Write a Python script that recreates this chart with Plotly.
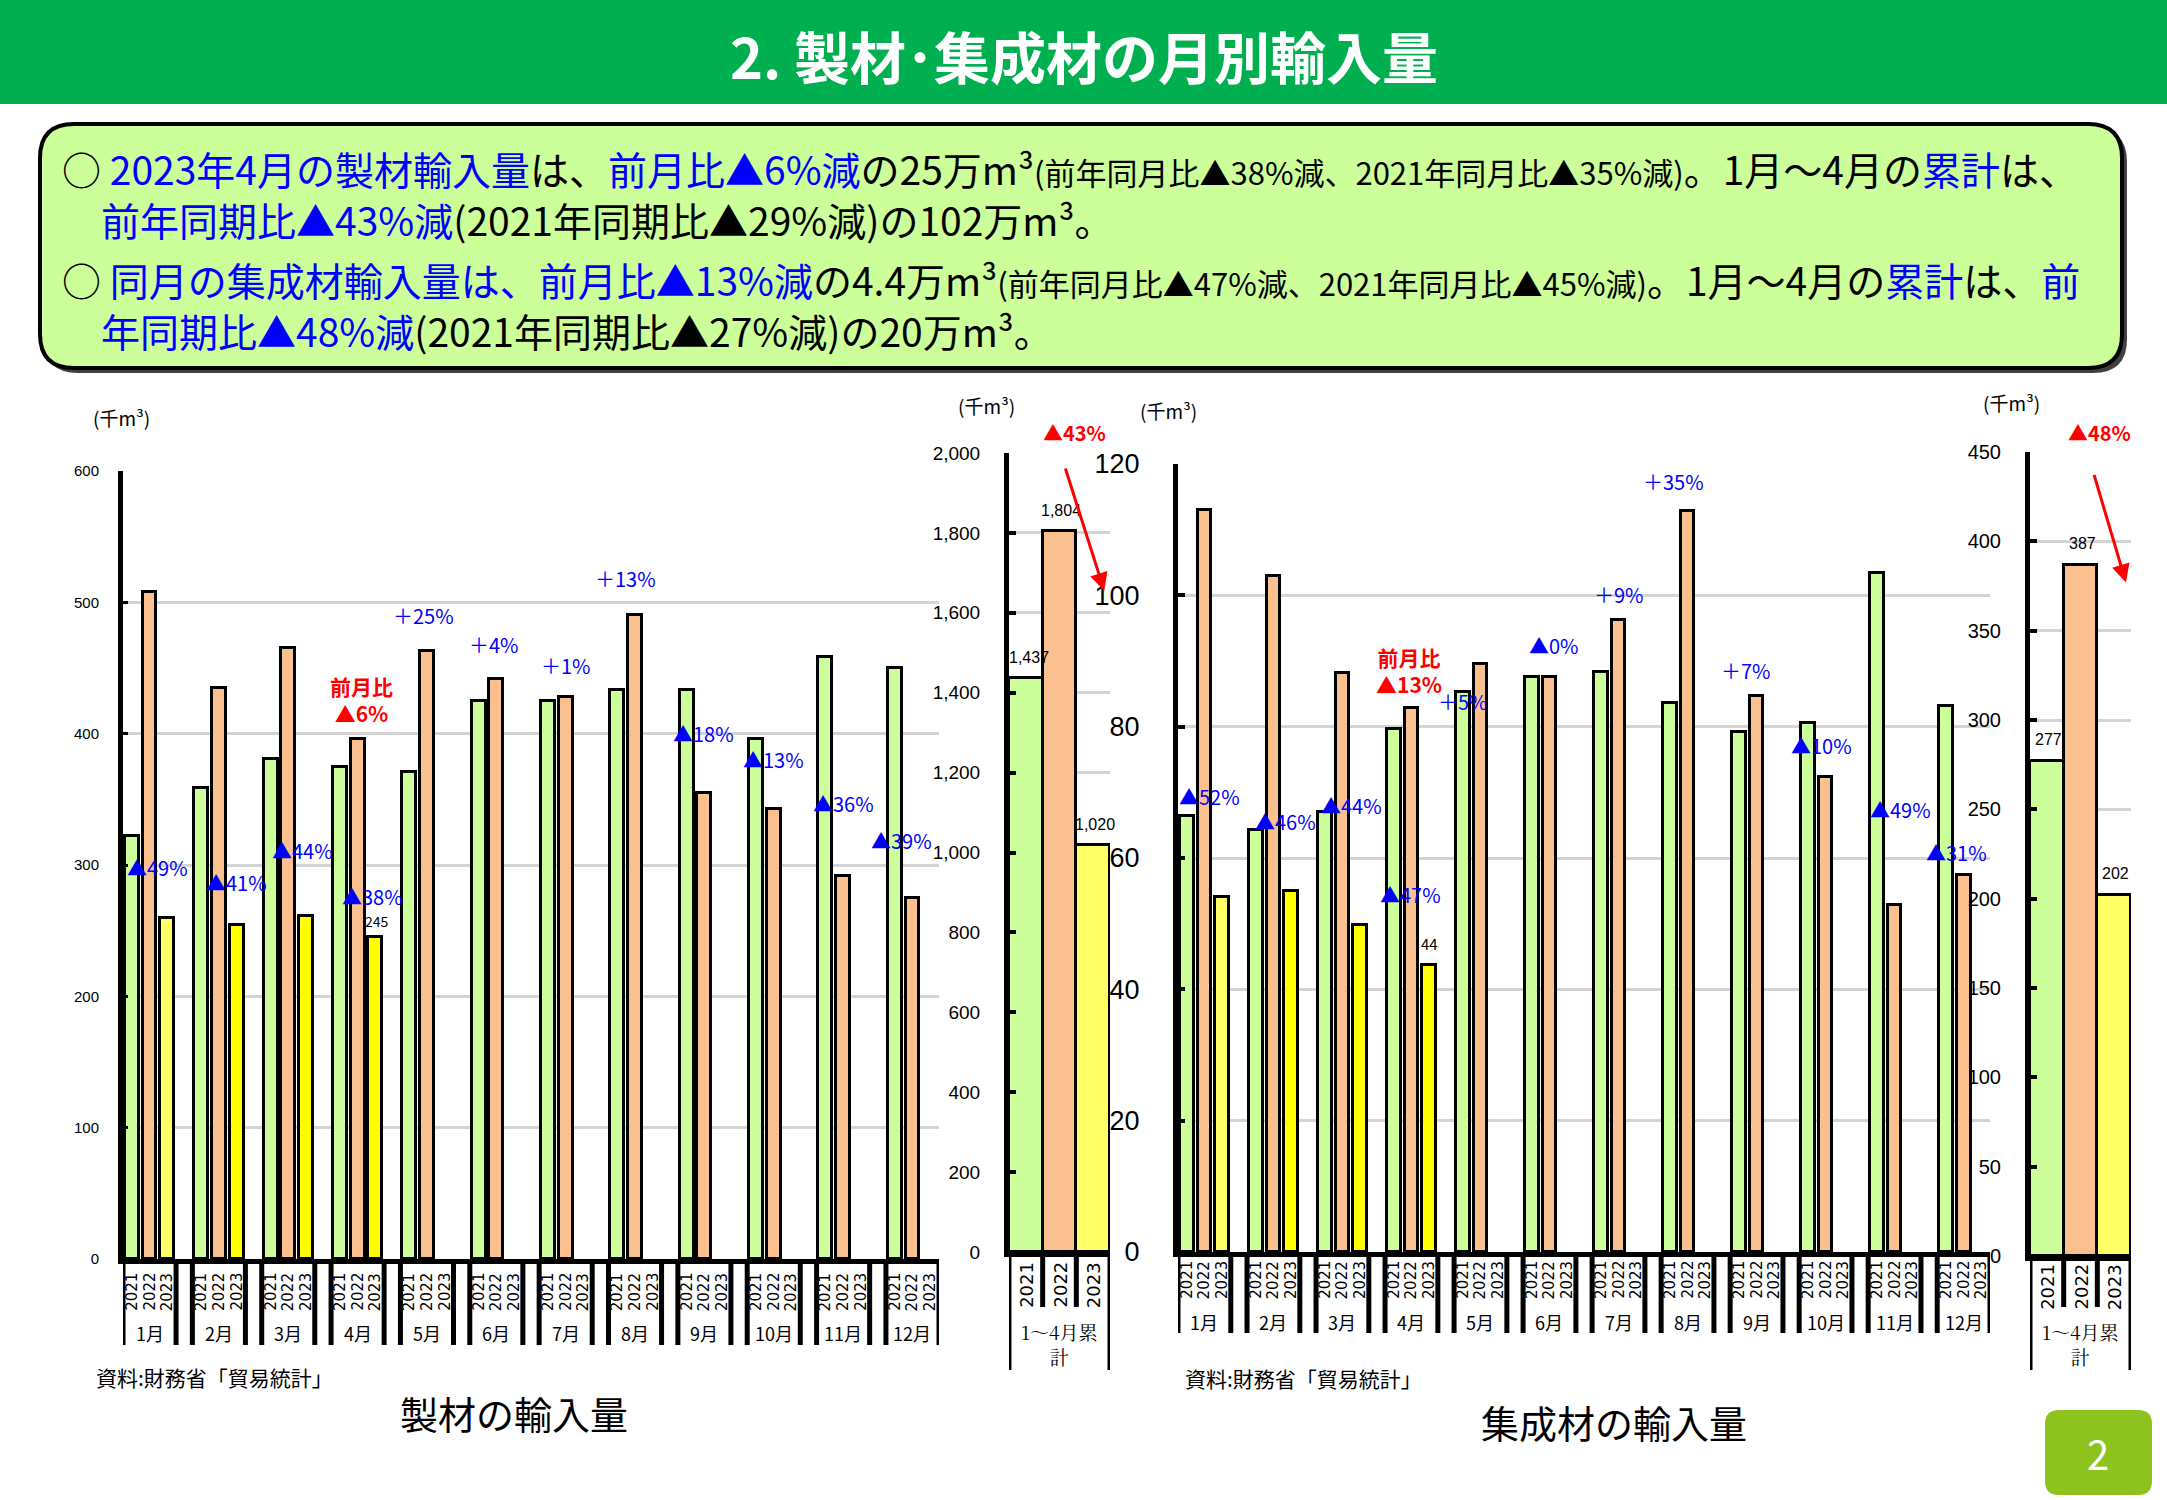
import plotly.graph_objects as go

W, H = 2167, 1500


def px(x):
    return x / W


def py(y):
    return 1 - y / H


# ---------------- data ----------------
months = ["1月", "2月", "3月", "4月", "5月", "6月", "7月", "8月", "9月", "10月", "11月", "12月"]
years = ["2021", "2022", "2023"]
cum_label = "1～4月累<br>計"

sawn_2021 = [322, 359, 381, 375, 371, 425, 425, 433, 433, 396, 458, 450]
sawn_2022 = [508, 435, 465, 396, 463, 442, 428, 490, 355, 343, 292, 275]
sawn_2023 = [260, 254, 261, 245]
sawn_cum = [1437, 1804, 1020]
sawn_cum_text = ["1,437", "1,804", "1,020"]
sawn_pct = ["▲49%", "▲41%", "▲44%", "▲38%", "＋25%", "＋4%", "＋1%", "＋13%", "▲18%", "▲13%", "▲36%", "▲39%"]

glulam_2021 = [66.4, 64.3, 67.0, 79.7, 85.3, 87.6, 88.3, 83.6, 79.2, 80.5, 103.4, 83.2]
glulam_2022 = [113.0, 103.0, 88.2, 82.8, 89.6, 87.6, 96.2, 112.9, 84.7, 72.3, 52.8, 57.4]
glulam_2023 = [54.0, 55.0, 49.8, 43.7]
glulam_cum = [277, 387, 202]
glulam_cum_text = ["277", "387", "202"]
glulam_pct = ["▲52%", "▲46%", "▲44%", "▲47%", "＋5%", "▲0%", "＋9%", "＋35%", "＋7%", "▲10%", "▲49%", "▲31%"]

# label anchor positions (x in month units, y in axis units)
sawn_pct_pos = [(0.12, 298), (1.26, 287), (2.21, 311), (3.21, 276), (3.95, 490), (4.96, 468),
                (6.0, 452), (6.86, 518), (7.99, 400), (8.99, 380), (10.0, 347), (10.84, 319)]
glulam_pct_pos = [(0.07, 69.3), (1.17, 65.5), (2.13, 68.0), (2.99, 54.4), (3.75, 83.8), (5.06, 92.4),
                  (6.0, 100.2), (6.8, 117.4), (7.84, 88.6), (8.94, 77.1), (10.09, 67.4), (10.89, 60.9)]

GREEN = "#CCFF99"
ORANGE = "#FAC090"
YELLOW = "#FFFF00"
LYELLOW = "#FFFF66"
BLUE = "#0000FF"
RED = "#FF0000"
FONT = "Noto Sans CJK JP"

offs = [-0.255, 0.0, 0.255]
BOX = 0.3825

fig = go.Figure()


def month_bars(vals_list, xa, ya):
    cols = [GREEN, ORANGE, YELLOW]
    for k, vals in enumerate(vals_list):
        if k == 2:
            colors = [LYELLOW] + [YELLOW] * (len(vals) - 1)
        else:
            colors = cols[k]
        fig.add_trace(go.Bar(
            x=[i + offs[k] for i in range(len(vals))], y=vals, width=0.2,
            marker=dict(color=colors, line=dict(color="black", width=3)),
            xaxis=xa, yaxis=ya, showlegend=False, hoverinfo="skip"))


def cum_bars(vals, xa, ya):
    fig.add_trace(go.Bar(
        x=list(range(len(vals))), y=vals, width=1.0,
        marker=dict(color=[GREEN, ORANGE, LYELLOW], line=dict(color="black", width=3)),
        xaxis=xa, yaxis=ya, showlegend=False, hoverinfo="skip"))


month_bars([sawn_2021, sawn_2022, sawn_2023], "x", "y")
cum_bars(sawn_cum, "x2", "y2")
month_bars([glulam_2021, glulam_2022, glulam_2023], "x3", "y3")
cum_bars(glulam_cum, "x4", "y4")

xcommon = dict(showgrid=False, zeroline=False, showticklabels=False, ticks="", automargin=False,
               showline=True, linecolor="black", linewidth=5, fixedrange=True)


def ycommon(size, standoff, ticklen=7, tickw=4):
    return dict(showline=True, linecolor="black", linewidth=5, ticks="inside", ticklen=ticklen,
                tickwidth=tickw, tickcolor="black", showgrid=True, gridcolor="#D4D4D4",
                gridwidth=2.5, zeroline=False, fixedrange=True, automargin=False,
                tickfont=dict(family="Liberation Sans", size=size, color="black"),
                ticklabelstandoff=standoff)


fig.update_layout(
    width=W, height=H, margin=dict(l=0, r=0, t=0, b=0, pad=0, autoexpand=False),
    paper_bgcolor="white", plot_bgcolor="rgba(0,0,0,0)",
    font=dict(family=FONT, color="black"),
    bargap=0, showlegend=False,
    xaxis=dict(domain=[px(123), px(939)], range=[-BOX, 11 + BOX], anchor="y", **xcommon),
    yaxis=dict(domain=[py(1259), py(471)], range=[0, 600], dtick=100, anchor="x", **ycommon(15, 16, 5, 3)),
    xaxis2=dict(domain=[px(1009), px(1110)], range=[-0.5, 2.5], anchor="y2", **xcommon),
    yaxis2=dict(domain=[py(1252), py(453)], range=[0, 2000], dtick=200, tickformat=",", anchor="x2",
                **ycommon(19, 20)),
    xaxis3=dict(domain=[px(1178), px(1990)], range=[-BOX, 11 + BOX], anchor="y3", **xcommon),
    yaxis3=dict(domain=[py(1252), py(464)], range=[0, 120], dtick=20, anchor="x3", **ycommon(27, 28)),
    xaxis4=dict(domain=[px(2030), px(2131)], range=[-0.5, 2.5], anchor="y4", **xcommon),
    yaxis4=dict(domain=[py(1256), py(452)], range=[0, 450], dtick=50, anchor="x4", **ycommon(20, 20)),
)

shapes = []
anns = []


def A(text, x, y, xref="paper", yref="paper", size=16, color="black", xanchor="center",
      yanchor="middle", family=FONT, angle=0, **kw):
    anns.append(dict(text=text, x=x, y=y, xref=xref, yref=yref, showarrow=False,
                     font=dict(size=size, color=color, family=family), xanchor=xanchor,
                     yanchor=yanchor, textangle=angle, **kw))


def rrect(x0, y0, x1, y1, r, fill, line_color, lw):
    pts = [
        f"M {px(x0 + r)},{py(y0)}", f"L {px(x1 - r)},{py(y0)}",
        f"Q {px(x1)},{py(y0)} {px(x1)},{py(y0 + r)}", f"L {px(x1)},{py(y1 - r)}",
        f"Q {px(x1)},{py(y1)} {px(x1 - r)},{py(y1)}", f"L {px(x0 + r)},{py(y1)}",
        f"Q {px(x0)},{py(y1)} {px(x0)},{py(y1 - r)}", f"L {px(x0)},{py(y0 + r)}",
        f"Q {px(x0)},{py(y0)} {px(x0 + r)},{py(y0)}", "Z"]
    shapes.append(dict(type="path", path=" ".join(pts), xref="paper", yref="paper",
                       fillcolor=fill, line=dict(color=line_color, width=lw), layer="below"))


# header band
shapes.append(dict(type="rect", xref="paper", yref="paper", x0=-0.01, x1=1.01, y0=py(104), y1=1.05,
                   fillcolor="#00B050", line=dict(width=0), layer="below"))
A("<b>2. 製材･集成材の月別輸入量</b>", 0.5, py(55), size=56, color="white")

# summary box
rrect(44, 128, 2127, 373, 34, "#404040", "#404040", 0)
rrect(40, 124, 2122, 368, 34, "#CCFF99", "black", 4)


def b(t):
    return f'<span style="color:{BLUE}">{t}</span>'


def s(t):
    return f'<span style="font-size:31px">{t}</span>'


SZ = 39
line1 = ("○ " + b("2023年4月の製材輸入量") + "は、" + b("前月比▲6%減") + "の25万m³"
         + s("(前年同月比▲38%減、2021年同月比▲35%減)") + "。1月～4月の" + b("累計") + "は、")
line2 = "　" + b("前年同期比▲43%減") + "(2021年同期比▲29%減)の102万m³。"
line3 = ("○ " + b("同月の集成材輸入量は、前月比▲13%減") + "の4.4万m³"
         + s("(前年同月比▲47%減、2021年同月比▲45%減)") + "。1月～4月の" + b("累計") + "は、" + b("前"))
line4 = "　" + b("年同期比▲48%減") + "(2021年同期比▲27%減)の20万m³。"
A(line1 + "<br>" + line2, px(60), py(193), size=SZ, xanchor="left", align="left")
A(line3 + "<br>" + line4, px(60), py(304), size=SZ, xanchor="left", align="left")


# category axes for monthly charts
def month_axis(xref, ybot, yend, ylab_year, ylab_month, n=12):
    for i in range(n):
        for e in (-BOX, BOX):
            shapes.append(dict(type="line", xref=xref, yref="paper", x0=i + e, x1=i + e,
                               y0=py(ybot), y1=py(yend), line=dict(color="black", width=5)))
        for k, yr in enumerate(years):
            A(yr, i + offs[k], py(ylab_year), xref=xref, size=15, family="DejaVu Sans", angle=-90)
        A(months[i], i, py(ylab_month), xref=xref, size=18)


def cum_axis(xref, ybot, yin, yend, ylab_year):
    for e in (-0.5, 2.5):
        shapes.append(dict(type="line", xref=xref, yref="paper", x0=e, x1=e, y0=py(ybot),
                           y1=py(yend), line=dict(color="black", width=5)))
    for e in (0.5, 1.5):
        shapes.append(dict(type="line", xref=xref, yref="paper", x0=e, x1=e, y0=py(ybot),
                           y1=py(yin), line=dict(color="black", width=5)))
    for k, yr in enumerate(years):
        A(yr, k, py(ylab_year), xref=xref, size=18, family="DejaVu Sans", angle=-90)
    A(cum_label, 1, py(1344), xref=xref, size=19, family="Noto Serif CJK JP")


month_axis("x", 1259, 1345, 1292, 1333)
month_axis("x3", 1252, 1333, 1280, 1322)
cum_axis("x2", 1252, 1307, 1370, 1285)
cum_axis("x4", 1256, 1307, 1370, 1287)

# unit labels
A("(千m³)", px(121), py(418), size=19)
A("(千m³)", px(987), py(405), size=19)
A("(千m³)", px(1168), py(410), size=19)
A("(千m³)", px(2011), py(402), size=19)

# percent labels
for t, (x, y) in zip(sawn_pct, sawn_pct_pos):
    A(t, x, y, xref="x", yref="y", size=20, color=BLUE)
for t, (x, y) in zip(glulam_pct, glulam_pct_pos):
    A(t, x, y, xref="x3", yref="y3", size=20, color=BLUE)

# value labels on the latest month
A(str(sawn_2023[3]), 3 + offs[2] + 0.02, sawn_2023[3] + 12, xref="x", yref="y", size=14)
A(str(round(glulam_2023[3])), 3 + offs[2], glulam_2023[3] + 3.3, xref="x3", yref="y3", size=15)
A("<b>前月比<br>▲6%</b>", 3.05, 426, xref="x", yref="y", size=21, color=RED)
A("<b>前月比<br>▲13%</b>", 2.97, 88.6, xref="x3", yref="y3", size=21, color=RED)

# cumulative value labels
for k, (v, t) in enumerate(zip(sawn_cum, sawn_cum_text)):
    A(t, k + (0.1 if k == 0 else 0.05), v + 25, xref="x2", yref="y2", size=16, yanchor="bottom",
      family="Liberation Sans")
for k, (v, t) in enumerate(zip(glulam_cum, glulam_cum_text)):
    A(t, k + 0.05, v + 6, xref="x4", yref="y4", size=16, yanchor="bottom", family="Liberation Sans")

A("<b>▲43%</b>", px(1074), py(433), size=20, color=RED)
A("<b>▲48%</b>", px(2099), py(433), size=20, color=RED)
anns.append(dict(x=2.33, y=1655, ax=1.16, ay=1965, xref="x2", yref="y2", axref="x2", ayref="y2",
                 showarrow=True, arrowhead=2, arrowsize=1.2, arrowwidth=3, arrowcolor=RED, text=""))
anns.append(dict(x=2.35, y=377, ax=1.39, ay=438, xref="x4", yref="y4", axref="x4", ayref="y4",
                 showarrow=True, arrowhead=2, arrowsize=1.2, arrowwidth=3, arrowcolor=RED, text=""))

# sources & captions
A("資料:財務省「貿易統計」", px(94), py(1377), size=21, xanchor="left")
A("資料:財務省「貿易統計」", px(1183), py(1378), size=21, xanchor="left")
A("製材の輸入量", px(514), py(1412), size=38)
A("集成材の輸入量", px(1614), py(1421), size=38)

# page number
rrect(2045, 1410, 2152, 1495, 14, "#8DC21F", "#8DC21F", 0)
A("2", px(2098), py(1453), size=40, color="white")

fig.update_layout(shapes=shapes, annotations=anns)
post = ("document.documentElement.style.margin='0';document.body.style.margin='0';"
        "document.body.style.overflow='hidden';"
        "var g=document.querySelector('.plotly-graph-div');"
        "g.style.position='fixed';g.style.top='0px';g.style.left='0px';")
fig.write_html("out.html", config={"displayModeBar": False}, post_script=post)
